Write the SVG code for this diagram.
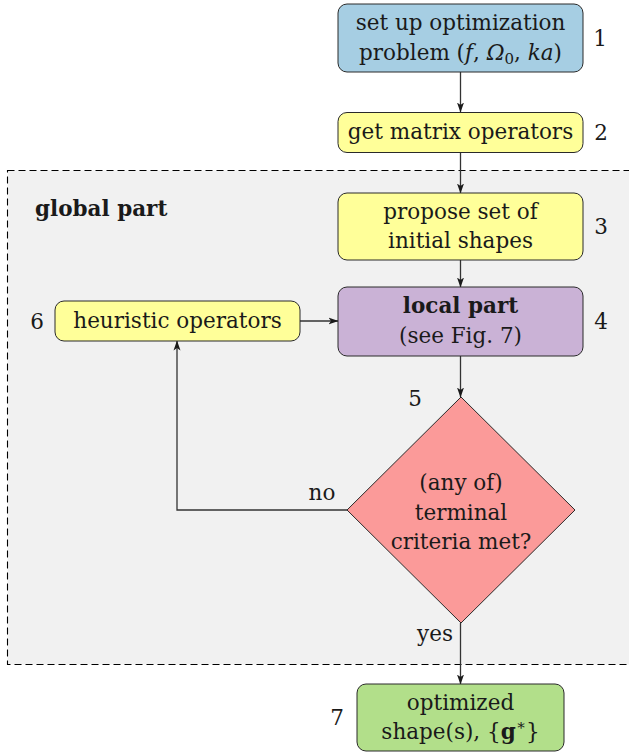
<svg xmlns="http://www.w3.org/2000/svg" width="629" height="755" viewBox="0 0 629 755">
<style>
text{font-family:"DejaVu Serif","Liberation Serif",serif;font-size:21.5px;fill:#1a1a1a}
.c{text-anchor:middle}
.b{font-weight:bold}
.i{font-style:italic}
.node{stroke:#2a2a2a;stroke-width:1}
.con{fill:none;stroke:#333;stroke-width:1.3}
</style>
<defs>
<marker id="ah" markerWidth="10" markerHeight="8" viewBox="0 0 10 8" refX="9.5" refY="4" orient="auto" markerUnits="userSpaceOnUse">
<path d="M0,0.5 L10,4 L0,7.5 L2.5,4 Z" fill="#1a1a1a"/>
</marker>
</defs>
<g id="global">
<rect x="7.5" y="170.5" width="640" height="494" fill="#f1f1f1" stroke="#000" stroke-width="1.1" stroke-dasharray="7,4"/>
<text x="35" y="216" class="b">global part</text>
</g>
<g id="connectors">
<line class="con" x1="460.5" y1="72" x2="460.5" y2="112" marker-end="url(#ah)"/>
<line class="con" x1="460.5" y1="152" x2="460.5" y2="193" marker-end="url(#ah)"/>
<line class="con" x1="460.5" y1="260" x2="460.5" y2="287" marker-end="url(#ah)"/>
<line class="con" x1="460.5" y1="356" x2="460.5" y2="397" marker-end="url(#ah)"/>
<line class="con" x1="460.5" y1="623" x2="460.5" y2="684" marker-end="url(#ah)"/>
<line class="con" x1="300" y1="321" x2="338" y2="321" marker-end="url(#ah)"/>
<polyline class="con" points="347,510 177,510 177,341" marker-end="url(#ah)"/>
<text x="322" y="500" class="c">no</text>
<text x="435" y="641" class="c">yes</text>
</g>
<g id="n1">
<rect class="node" x="338" y="4" width="245" height="68" rx="9" fill="#a6cee3"/>
<text x="460.5" y="30" class="c">set up optimization</text>
<text x="460.5" y="60" class="c">problem (<tspan class="i">f</tspan>, <tspan class="i">Ω</tspan><tspan font-size="15" dy="4">0</tspan><tspan dy="-4">, </tspan><tspan class="i">ka</tspan>)</text>
<text x="600" y="46" class="c">1</text>
</g>
<g id="n2">
<rect class="node" x="338" y="112.5" width="245" height="40" rx="9" fill="#ffff99"/>
<text x="460.5" y="139" class="c">get matrix operators</text>
<text x="601" y="139.5" class="c">2</text>
</g>
<g id="n3">
<rect class="node" x="338" y="193" width="245" height="67" rx="9" fill="#ffff99"/>
<text x="460.5" y="219" class="c">propose set of</text>
<text x="460.5" y="248" class="c">initial shapes</text>
<text x="601" y="234" class="c">3</text>
</g>
<g id="n4">
<rect class="node" x="338" y="287" width="245" height="69" rx="9" fill="#cab2d6"/>
<text x="460.5" y="313" class="c b">local part</text>
<text x="460.5" y="343" class="c">(see Fig. 7)</text>
<text x="601" y="329" class="c">4</text>
</g>
<g id="n6">
<rect class="node" x="55" y="301" width="245" height="40" rx="9" fill="#ffff99"/>
<text x="177.5" y="328" class="c">heuristic operators</text>
<text x="37" y="329" class="c">6</text>
</g>
<g id="n5">
<polygon class="node" points="461,397 575,510 461,623 347,510" fill="#fb9a99"/>
<text x="461" y="490" class="c">(any of)</text>
<text x="461" y="519.5" class="c">terminal</text>
<text x="461" y="548.5" class="c">criteria met?</text>
<text x="415" y="406" class="c">5</text>
</g>
<g id="n7">
<rect class="node" x="357" y="684" width="207" height="67" rx="9" fill="#b2df8a"/>
<text x="460.5" y="709.5" class="c">optimized</text>
<text x="460.5" y="739" class="c">shape(s), {<tspan class="b">g</tspan><tspan font-size="15" dy="-9">∗</tspan><tspan dy="9">}</tspan></text>
<text x="337" y="725" class="c">7</text>
</g>
</svg>
